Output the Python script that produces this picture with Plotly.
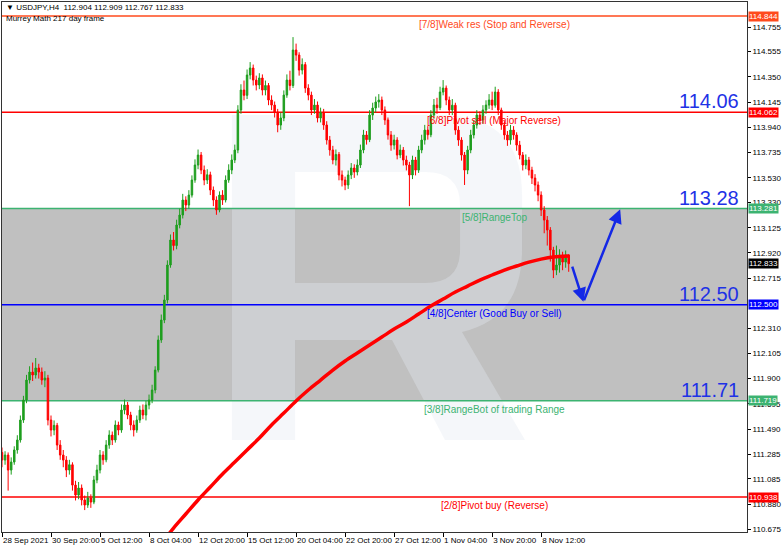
import plotly.graph_objects as go

# ---------------- data ----------------
bar_open = [111.300,111.238,111.279,111.157,111.222,111.320,111.401,111.563,111.726,111.888,
            111.953,111.929,111.986,111.953,111.888,111.904,111.563,111.482,111.520,111.360,
            111.279,111.238,111.157,111.200,111.035,110.954,111.011,110.914,110.873,110.930,
            110.897,111.076,111.157,111.279,111.240,111.360,111.441,111.401,111.523,111.482,
            111.644,111.685,111.604,111.523,111.482,111.563,111.644,111.604,111.685,111.726,
            111.807,111.969,112.213,112.375,112.538,112.822,113.025,112.980,113.147,113.228,
            113.350,113.309,113.390,113.512,113.634,113.715,113.593,113.512,113.555,113.431,
            113.350,113.269,113.390,113.350,113.512,113.593,113.675,113.756,114.081,114.243,
            114.200,114.365,114.422,114.324,114.284,114.341,114.243,114.280,114.162,114.121,
            114.064,113.959,114.016,114.202,114.324,114.280,114.568,114.527,114.405,114.450,
            114.259,114.202,114.081,114.121,114.016,114.060,113.959,113.837,113.756,113.675,
            113.720,113.553,113.512,113.472,113.553,113.610,113.577,113.634,113.756,113.878,
            113.840,114.040,114.097,114.146,114.162,114.081,114.000,113.878,113.796,113.837,
            113.715,113.756,113.675,113.634,113.553,113.675,113.593,113.756,113.837,113.918,
            113.880,114.040,114.121,114.100,114.227,114.259,114.162,114.081,114.120,113.918,
            113.837,113.715,113.593,113.756,113.878,113.959,114.040,114.000,114.081,114.121,
            114.162,114.120,114.227,114.081,113.959,113.878,113.837,113.918,113.878,113.796,
            113.715,113.634,113.675,113.593,113.528,113.472,113.390,113.269,113.187,113.106,
            112.944,112.781,112.822,112.903,112.846,112.904]
bar_high = [111.340,111.310,111.300,111.260,111.350,111.440,111.600,111.760,111.930,112.000,
            112.030,112.067,112.020,111.990,111.960,111.930,111.600,111.560,111.540,111.400,
            111.320,111.270,111.240,111.220,111.070,111.060,111.040,110.950,110.980,110.960,
            111.110,111.200,111.320,111.310,111.400,111.480,111.470,111.560,111.550,111.690,
            111.730,111.710,111.630,111.560,111.600,111.680,111.690,111.720,111.770,111.850,
            112.000,112.250,112.420,112.580,112.860,113.070,113.090,113.190,113.280,113.400,
            113.380,113.430,113.550,113.680,113.760,113.740,113.630,113.600,113.580,113.460,
            113.380,113.420,113.430,113.550,113.640,113.720,113.800,114.120,114.290,114.320,
            114.410,114.470,114.450,114.360,114.380,114.370,114.320,114.300,114.200,114.150,
            114.090,114.060,114.240,114.370,114.400,114.673,114.620,114.550,114.500,114.470,
            114.290,114.230,114.170,114.150,114.100,114.090,113.990,113.870,113.790,113.760,
            113.740,113.590,113.540,113.590,113.650,113.640,113.680,113.800,113.920,113.910,
            114.080,114.140,114.190,114.210,114.190,114.110,114.020,113.910,113.880,113.860,
            113.800,113.780,113.710,113.660,113.710,113.700,113.790,113.880,113.960,113.950,
            114.080,114.170,114.180,114.270,114.324,114.280,114.190,114.170,114.140,113.950,
            113.860,113.740,113.790,113.920,114.000,114.080,114.070,114.120,114.160,114.210,
            114.230,114.270,114.250,114.100,113.990,113.910,113.960,113.950,113.900,113.830,
            113.740,113.720,113.700,113.620,113.560,113.500,113.420,113.300,113.220,113.130,
            112.970,112.980,112.950,112.930,112.940,112.909]
bar_low = [111.180,111.200,110.990,111.120,111.200,111.290,111.380,111.540,111.700,111.860,
           111.880,111.900,111.900,111.850,111.830,111.520,111.430,111.440,111.320,111.240,
           111.180,111.100,111.120,110.990,110.910,110.920,110.870,110.832,110.850,110.850,
           110.880,111.050,111.130,111.200,111.220,111.330,111.360,111.380,111.440,111.460,
           111.610,111.570,111.480,111.430,111.460,111.540,111.570,111.560,111.650,111.700,
           111.780,111.950,112.190,112.350,112.510,112.800,112.940,112.950,113.120,113.200,
           113.260,113.280,113.370,113.490,113.600,113.560,113.470,113.480,113.390,113.300,
           113.230,113.250,113.310,113.330,113.490,113.560,113.650,113.730,114.050,114.160,
           114.170,114.330,114.280,114.240,114.250,114.200,114.200,114.120,114.080,114.020,
           113.900,113.920,113.990,114.180,114.240,114.260,114.480,114.360,114.370,114.220,
           114.160,114.040,114.050,113.980,113.980,113.920,113.800,113.710,113.640,113.630,
           113.510,113.460,113.430,113.440,113.520,113.530,113.550,113.610,113.730,113.800,
           113.820,114.000,114.060,114.100,114.040,113.960,113.840,113.750,113.760,113.680,
           113.690,113.630,113.590,113.300,113.520,113.550,113.570,113.730,113.800,113.840,
           113.860,114.010,114.050,114.080,114.200,114.120,114.040,114.040,113.880,113.790,
           113.670,113.472,113.560,113.730,113.850,113.930,113.960,113.970,114.050,114.090,
           114.080,114.100,114.040,113.920,113.840,113.790,113.800,113.840,113.750,113.680,
           113.590,113.600,113.550,113.480,113.420,113.340,113.220,113.080,112.980,112.850,
           112.716,112.740,112.760,112.780,112.800,112.767]
bar_close = [111.238,111.279,111.157,111.222,111.320,111.401,111.563,111.726,111.888,111.953,
             111.929,111.986,111.953,111.888,111.904,111.563,111.482,111.520,111.360,111.279,
             111.238,111.157,111.200,111.035,110.954,111.011,110.914,110.873,110.930,110.897,
             111.076,111.157,111.279,111.240,111.360,111.441,111.401,111.523,111.482,111.644,
             111.685,111.604,111.523,111.482,111.563,111.644,111.604,111.685,111.726,111.807,
             111.969,112.213,112.375,112.538,112.822,113.025,112.980,113.147,113.228,113.350,
             113.309,113.390,113.512,113.634,113.715,113.593,113.512,113.555,113.431,113.350,
             113.269,113.390,113.350,113.512,113.593,113.675,113.756,114.081,114.243,114.200,
             114.365,114.422,114.324,114.284,114.341,114.243,114.280,114.162,114.121,114.064,
             113.959,114.016,114.202,114.324,114.280,114.568,114.527,114.405,114.450,114.259,
             114.202,114.081,114.121,114.016,114.060,113.959,113.837,113.756,113.675,113.720,
             113.553,113.512,113.472,113.553,113.610,113.577,113.634,113.756,113.878,113.840,
             114.040,114.097,114.146,114.162,114.081,114.000,113.878,113.796,113.837,113.715,
             113.756,113.675,113.634,113.553,113.675,113.593,113.756,113.837,113.918,113.880,
             114.040,114.121,114.100,114.227,114.259,114.162,114.081,114.120,113.918,113.837,
             113.715,113.593,113.756,113.878,113.959,114.040,114.000,114.081,114.121,114.162,
             114.120,114.227,114.081,113.959,113.878,113.837,113.918,113.878,113.796,113.715,
             113.634,113.675,113.593,113.528,113.472,113.390,113.269,113.187,113.106,112.944,
             112.781,112.822,112.903,112.846,112.904,112.833]

# moving average (bar index, value)
ma_index = [54,56,60,64,68,72,76,80,84,88,92,96,100,104,108,112,116,120,124,128,
            132,136,140,144,148,152,156,160,164,168,172,176,180,185]
ma_value = [110.622,110.686,110.800,110.914,111.019,111.125,111.222,111.320,111.417,111.523,
            111.620,111.718,111.807,111.888,111.969,112.043,112.108,112.172,112.237,112.302,
            112.359,112.424,112.489,112.546,112.603,112.651,112.700,112.741,112.781,112.814,
            112.846,112.870,112.887,112.895]

# x-axis time labels (every 16 H4 bars)
tick_index = [0,16,32,48,64,80,96,112,128,144,160,176]
tick_labels = ["28 Sep 2021","30 Sep 20:00","5 Oct 12:00","8 Oct 04:00","12 Oct 20:00",
               "15 Oct 12:00","20 Oct 04:00","22 Oct 20:00","27 Oct 12:00","1 Nov 04:00",
               "3 Nov 20:00","8 Nov 12:00"]

# price axis ticks (the one under the 112.500 tag is hidden in the reference)
price_ticks = [114.755,114.555,114.350,114.145,113.940,113.735,113.530,113.330,113.125,112.920,
               112.715,112.310,112.105,111.900,111.695,111.490,111.285,111.085,110.880,110.675]

# Murrey math levels
level_values = [114.844, 114.062, 113.281, 112.500, 111.719, 110.938]
level_names = ["[7/8]Weak res (Stop and Reverse)", "[6/8]Pivot sell (Major Reverse)",
               "[5/8]RangeTop", "[4/8]Center (Good Buy or Sell)",
               "[3/8]RangeBot of trading Range", "[2/8]Pivot buy (Reverse)"]
level_colors = ["#FF4A1C", "#FF0000", "#3CB371", "#0000FF", "#3CB371", "#FF0000"]

big_values = [114.062, 113.281, 112.500, 111.719]
big_texts = ["114.06", "113.28", "112.50", "111.71"]

tag_values = [114.844, 114.062, 113.281, 112.833, 112.500, 111.719, 110.938]
tag_colors = ["#FF4A1C", "#FF0000", "#3CB371", "#000000", "#0000FF", "#3CB371", "#FF0000"]

# forecast arrow path (bar index, price)
forecast_x = [186.0, 189.8, 201.8]
forecast_y = [112.822, 112.524, 113.274]

header_text = "\u25BC USDJPY,H4  112.904 112.909 112.767 112.833"
sub_text = "Murrey Math 217 day frame"

# ---------------- figure ----------------
W, H = 782, 549
ML, MR, MT, MB = 2, 35, 2, 17
PW, PH = W - ML - MR, H - MT - MB
Y_MIN, Y_MAX = 110.654, 114.958
TICK_FONT = "Liberation Sans, Arial"

fig = go.Figure()

fig.add_trace(go.Candlestick(
    x=list(range(len(bar_close))), open=bar_open, high=bar_high, low=bar_low, close=bar_close,
    increasing=dict(line=dict(color="#1E9E1E", width=1), fillcolor="#1E9E1E"),
    decreasing=dict(line=dict(color="#FF0000", width=1), fillcolor="#FF0000"),
    whiskerwidth=0, showlegend=False, hoverinfo="skip"))

fig.add_trace(go.Scatter(x=ma_index, y=ma_value, mode="lines",
                         line=dict(color="#FF0000", width=3.5, shape="spline"),
                         showlegend=False, hoverinfo="skip"))

def ppath(points):
    # pixel points -> paper coordinates for the background logo
    out = []
    for cmd, pts in points:
        coords = []
        for (px, py) in pts:
            u = (px - ML) / PW
            v = 1 - (py - MT) / PH
            coords.append(f"{u:.4f},{v:.4f}")
        out.append(cmd + " " + " ".join(coords))
    return " ".join(out) + " Z"

logo_outer = ppath([("M", [(232, 115)]), ("L", [(440, 115)]), ("Q", [(522, 115), (522, 195)]),
                    ("L", [(522, 250)]), ("Q", [(522, 318), (462, 332)]), ("L", [(525, 440)]),
                    ("L", [(445, 440)]), ("L", [(392, 340)]), ("L", [(295, 340)]),
                    ("L", [(295, 440)]), ("L", [(232, 440)])])
logo_inner = ppath([("M", [(295, 172)]), ("L", [(295, 283)]), ("L", [(425, 283)]),
                    ("Q", [(460, 283), (460, 250)]), ("L", [(460, 205)]),
                    ("Q", [(460, 172), (425, 172)])])

shapes = [
    dict(type="rect", xref="paper", yref="y", x0=0, x1=1, y0=level_values[4], y1=level_values[2],
         fillcolor="#C0C0C0", line=dict(width=0), layer="below"),
    dict(type="path", xref="paper", yref="paper", path=logo_outer + " " + logo_inner,
         fillcolor="rgba(226,232,242,0.36)", line=dict(width=0), layer="below"),
]
for v, c in zip(level_values, level_colors):
    shapes.append(dict(type="line", xref="paper", yref="y", x0=0, x1=1, y0=v, y1=v,
                       line=dict(color=c, width=1.5), layer="below"))

annotations = []
for v, name, c in zip(level_values, level_names, level_colors):
    annotations.append(dict(xref="paper", yref="y", x=(494 - ML) / PW, y=v, text=name,
                            showarrow=False, xanchor="center", yanchor="top", yshift=-1,
                            font=dict(family="Liberation Sans, Arial", size=10, color=c)))
for v, t in zip(big_values, big_texts):
    annotations.append(dict(xref="paper", yref="y", x=(741 - ML) / PW, y=v, text=t,
                            showarrow=False, xanchor="right", yanchor="bottom", yshift=-2,
                            font=dict(family="Liberation Sans, Arial", size=20, color="#1E32E6")))
for v, c in zip(tag_values, tag_colors):
    annotations.append(dict(xref="paper", yref="y", x=1, y=v, text=f"{v:.3f}",
                            showarrow=False, xanchor="left", yanchor="middle", xshift=1,
                            bgcolor=c, borderpad=0,
                            font=dict(family=TICK_FONT, size=8, color="white")))
annotations.append(dict(xref="paper", yref="paper", x=(4 - ML) / PW, y=1 - (8 - MT) / PH,
                        text=header_text, showarrow=False, xanchor="left", yanchor="middle",
                        font=dict(family=TICK_FONT, size=8, color="black")))
annotations.append(dict(xref="paper", yref="paper", x=(4 - ML) / PW, y=1 - (19 - MT) / PH,
                        text=sub_text, showarrow=False, xanchor="left", yanchor="middle",
                        font=dict(family=TICK_FONT, size=8, color="black")))
# forecast arrows
for k in range(len(forecast_x) - 1):
    annotations.append(dict(x=forecast_x[k + 1], y=forecast_y[k + 1], ax=forecast_x[k], ay=forecast_y[k],
                            xref="x", yref="y", axref="x", ayref="y", showarrow=True,
                            arrowhead=2, arrowsize=1.1, arrowwidth=2.5, arrowcolor="#1428E6", text=""))

fig.update_layout(
    width=W, height=H, margin=dict(l=ML, r=MR, t=MT, b=MB, autoexpand=False),
    paper_bgcolor="white", plot_bgcolor="white",
    shapes=shapes, annotations=annotations, showlegend=False,
    xaxis=dict(range=[0, 243.2], rangeslider=dict(visible=False), showgrid=False, zeroline=False,
               tickmode="array", tickvals=tick_index, ticktext=tick_labels, tickangle=0,
               automargin=False,
               ticks="outside", ticklen=4, tickcolor="black", ticklabelposition="outside right",
               tickfont=dict(family=TICK_FONT, size=8, color="black"),
               showline=True, linecolor="#333333", linewidth=1, mirror=True),
    yaxis=dict(range=[Y_MIN, Y_MAX], side="right", showgrid=False, zeroline=False,
               tickmode="array", tickvals=price_ticks, ticktext=[f"{t:.3f}" for t in price_ticks],
               automargin=False,
               ticks="outside", ticklen=3, tickcolor="black",
               tickfont=dict(family=TICK_FONT, size=8, color="black"),
               showline=True, linecolor="#333333", linewidth=1, mirror=True),
)

fig.write_html("out.html", config={"displayModeBar": False, "staticPlot": True},
               post_script="document.body.style.margin='0';document.body.style.padding='0';"
                           "document.body.style.overflow='hidden';")
